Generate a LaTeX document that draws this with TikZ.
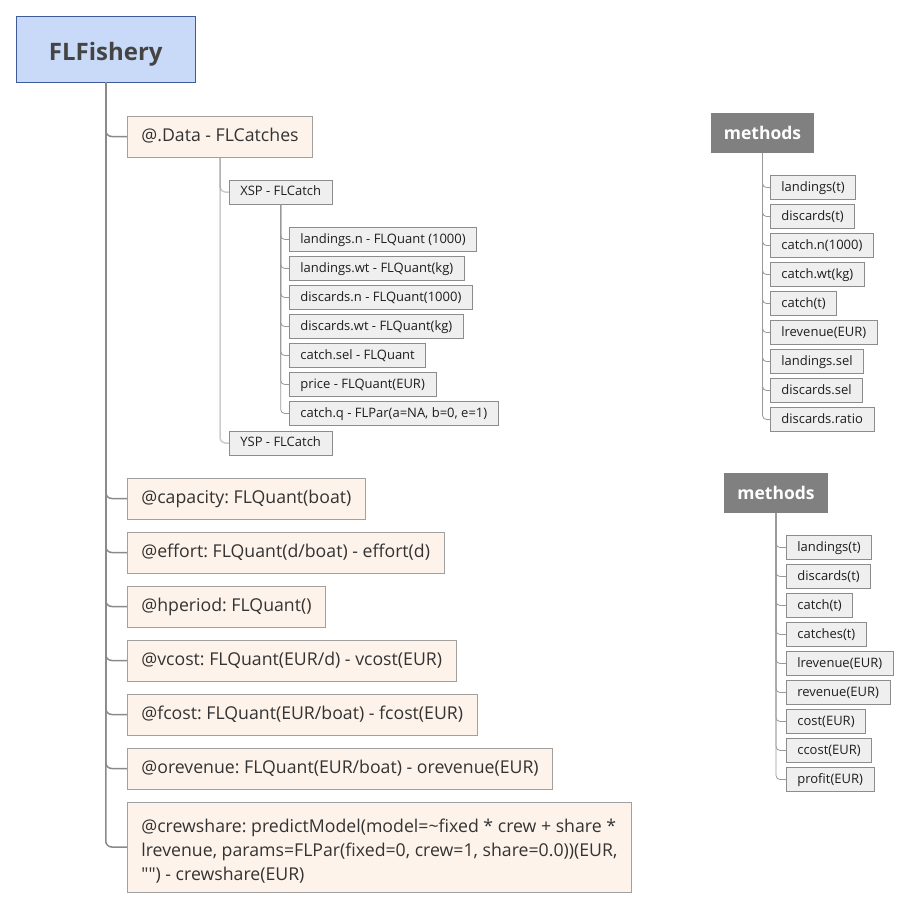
\documentclass[tikz,border=0pt]{standalone}
\usepackage{fontspec}
\setmainfont{Open Sans}[Ligatures=TeXOff]
\definecolor{rootfill}{HTML}{C9DAF8}
\definecolor{rootline}{HTML}{3E5C9A}
\definecolor{roottxt}{HTML}{444444}
\definecolor{peach}{HTML}{FEF3EA}
\definecolor{mainline}{HTML}{A0A0A0}
\definecolor{maintxt}{HTML}{333333}
\definecolor{smfill}{HTML}{EFEFEF}
\definecolor{smline}{HTML}{8C8C8C}
\definecolor{smtxt}{HTML}{1E1E1E}
\definecolor{methfill}{HTML}{808080}
\definecolor{trunkcol}{HTML}{8A8A8A}
\definecolor{lvlcol}{HTML}{999999}
\begin{document}
\frenchspacing
\begin{tikzpicture}[x=1pt,y=-1pt,
  rootbox/.style={draw=rootline, fill=rootfill, text=roottxt, line width=0.9pt,
    font=\fontsize{24}{28}\selectfont\bfseries, minimum width=179.5pt, minimum height=66pt, inner sep=0pt,
    text height=22pt, text depth=0pt},
  methbox/.style={fill=methfill, text=white, font=\fontsize{17.5}{20}\selectfont\bfseries,
    minimum height=40pt, inner sep=0pt},
  mainbox/.style={draw=mainline, fill=peach, text=maintxt, line width=0.8pt,
    font=\fontsize{17.7}{24}\selectfont, inner xsep=14pt, inner ysep=0pt, minimum height=41pt,
    text height=13.5pt, text depth=4pt, anchor=west},
  smallbox/.style={draw=smline, fill=smfill, text=smtxt, line width=0.7pt,
    font=\fontsize{13}{16}\selectfont, inner xsep=11pt, inner ysep=0pt, minimum height=24pt,
    text height=10pt, text depth=3pt, anchor=west},
  trunk/.style={draw=trunkcol, line width=1.5pt, rounded corners=6pt},
  lvltwo/.style={draw=lvlcol, line width=1.5pt, rounded corners=5pt, draw opacity=0.5},
  lvlthree/.style={draw=lvlcol, line width=0.8pt, rounded corners=4pt}
]
\useasboundingbox (0,0) rectangle (908,910);

% root
\node[rootbox] (root) at (105.75,49) {FLFishery};

% main level
\node[mainbox] (data) at (127,136.5) {@.Data - FLCatches};
\node[mainbox] (cap)  at (127,498.5) {@capacity: FLQuant(boat)};
\node[mainbox] (eff)  at (127,552.5) {@effort: FLQuant(d/boat) - effort(d)};
\node[mainbox] (hp)   at (127,606.5) {@hperiod: FLQuant()};
\node[mainbox] (vc)   at (127,660.5) {@vcost: FLQuant(EUR/d) - vcost(EUR)};
\node[mainbox] (fc)   at (127,714.5) {@fcost: FLQuant(EUR/boat) - fcost(EUR)};
\node[mainbox] (orv)  at (127,768.5) {@orevenue: FLQuant(EUR/boat) - orevenue(EUR)};
\node[mainbox, align=left, minimum height=90pt, text height=, text depth=] (crew) at (127,847)
  {\rule{0pt}{22pt}@crewshare: predictModel(model=\textasciitilde fixed * crew + share *\\
   lrevenue, params=FLPar(fixed=0, crew=1, share=0.0))(EUR,\\
   "") - crewshare(EUR)};

\foreach \c in {data,cap,eff,hp,vc,fc,orv,crew}
  \draw[trunk] (root.south) |- (\c.west);

% Data subtree
\node[smallbox] (xsp) at (229,192) {XSP - FLCatch};
\node[smallbox] (ysp) at (229,443) {YSP - FLCatch};
\draw[lvltwo] (data.south) |- (xsp.west);
\draw[lvltwo] (data.south) |- (ysp.west);

\node[smallbox] (ln)  at (289,239.5) {landings.n - FLQuant (1000)};
\node[smallbox] (lw)  at (289,268.5) {landings.wt - FLQuant(kg)};
\node[smallbox] (dn)  at (289,297.5) {discards.n - FLQuant(1000)};
\node[smallbox] (dw)  at (289,326.5) {discards.wt - FLQuant(kg)};
\node[smallbox] (cs)  at (289,355.5) {catch.sel - FLQuant};
\node[smallbox] (pr)  at (289,384.5) {price - FLQuant(EUR)};
\node[smallbox] (cq)  at (289,413.5) {catch.q - FLPar(a=NA, b=0, e=1)};
\foreach \c in {ln,lw,dn,dw,cs,pr,cq}
  \draw[lvlthree] (xsp.south) |- (\c.west);

% methods 1
\node[methbox, minimum width=103pt] (ma) at (762.5,133) {methods};
\node[smallbox] (a1) at (770,187.5) {landings(t)};
\node[smallbox] (a2) at (770,216.5) {discards(t)};
\node[smallbox] (a3) at (770,245.5) {catch.n(1000)};
\node[smallbox] (a4) at (770,274.5) {catch.wt(kg)};
\node[smallbox] (a5) at (770,303.5) {catch(t)};
\node[smallbox] (a6) at (770,332.5) {lrevenue(EUR)};
\node[smallbox] (a7) at (770,361.5) {landings.sel};
\node[smallbox] (a8) at (770,390.5) {discards.sel};
\node[smallbox] (a9) at (770,419.5) {discards.ratio};
\foreach \c in {a1,a2,a3,a4,a5,a6,a7,a8,a9}
  \draw[lvlthree] (ma.south) |- (\c.west);

% methods 2
\node[methbox, minimum width=104pt] (mb) at (776,493) {methods};
\node[smallbox] (b1) at (786,547.5) {landings(t)};
\node[smallbox] (b2) at (786,576.5) {discards(t)};
\node[smallbox] (b3) at (786,605.5) {catch(t)};
\node[smallbox] (b4) at (786,634.5) {catches(t)};
\node[smallbox] (b5) at (786,663.5) {lrevenue(EUR)};
\node[smallbox] (b6) at (786,692.5) {revenue(EUR)};
\node[smallbox] (b7) at (786,721.5) {cost(EUR)};
\node[smallbox] (b8) at (786,750.5) {ccost(EUR)};
\node[smallbox] (b9) at (786,779.5) {profit(EUR)};
\foreach \c in {b1,b2,b3,b4,b5,b6,b7,b8,b9}
  \draw[lvlthree] (mb.south) |- (\c.west);
\end{tikzpicture}
\end{document}
